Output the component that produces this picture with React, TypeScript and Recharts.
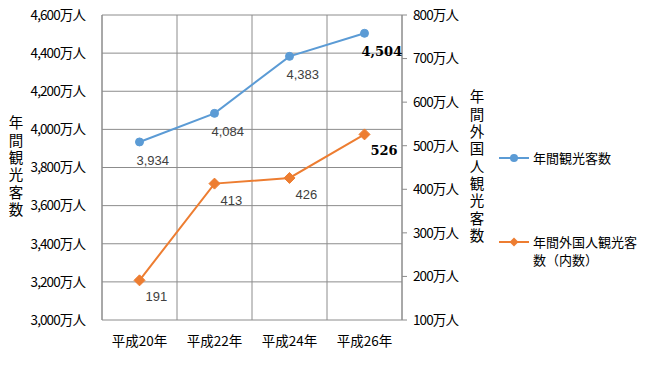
import React from 'react';
import {
  ComposedChart,
  Line,
  XAxis,
  YAxis,
  CartesianGrid,
  LabelList,
} from 'recharts';

const categories = ['平成20年', '平成22年', '平成24年', '平成26年'];
const totalVisitors = [3934, 4084, 4383, 4504];
const foreignVisitors = [191, 413, 426, 526];
const leftTicks = [3000, 3200, 3400, 3600, 3800, 4000, 4200, 4400, 4600];
const rightTicks = [100, 200, 300, 400, 500, 600, 700, 800];

const leftTitle = '年間観光客数';
const rightTitle = '年間外国人観光客数';
const totalName = '年間観光客数';
const foreignName = '年間外国人観光客数（内数）';

const data = categories.map((name, i) => ({
  name,
  total: totalVisitors[i],
  foreign: foreignVisitors[i],
}));

const BLUE = '#5B9BD5';
const ORANGE = '#ED7D31';
const GRID = '#8c8c8c';
const JP = '"Noto Sans CJK JP", "Noto Sans", sans-serif';

const fmt = (v: number) => v.toLocaleString('en-US') + '万人';
const tickStyle = { fontSize: 13.5, fontFamily: JP, fill: '#000', letterSpacing: -0.9 };

// vertical (tategaki) axis title, one text element
const verticalTitle = (text: string, dx: number) => (props: any) => {
  const { x, y, height } = props.viewBox;
  return (
    <text
      x={x + dx}
      y={y + height / 2}
      textAnchor="middle"
      fontSize={14.5}
      fontFamily={JP}
      fill="#000"
      style={{ writingMode: 'vertical-rl', letterSpacing: 2.8 }}
    >
      {text}
    </text>
  );
};

const valueLabel = (dx: number, dy: number) => (props: any) => {
  const { x, y, value, index } = props;
  const last = index === categories.length - 1;
  return (
    <text
      x={x + dx}
      y={y + dy}
      fontSize={13}
      fontWeight={last ? 'bold' : 'normal'}
      fontFamily={last ? '"DejaVu Serif", serif' : '"Liberation Sans", Arial, sans-serif'}
      fill={last ? '#000' : '#404040'}
    >
      {value.toLocaleString('en-US')}
    </text>
  );
};

const Diamond = (props: any) => {
  const { cx, cy } = props;
  if (cx == null || cy == null) return null;
  const s = 5.5;
  return (
    <path
      d={`M${cx},${cy - s}L${cx + s},${cy}L${cx},${cy + s}L${cx - s},${cy}Z`}
      fill={ORANGE}
      stroke={ORANGE}
    />
  );
};

const LegendBox = () => (
  <div
    style={{
      position: 'absolute',
      left: 499,
      top: 149,
      width: 160,
      fontFamily: JP,
      fontSize: 13,
      color: '#000',
      lineHeight: '18px',
    }}
  >
    <div style={{ display: 'flex', alignItems: 'center' }}>
      <svg width={32} height={12}>
        <line x1={0} y1={6} x2={30} y2={6} stroke={BLUE} strokeWidth={2} />
        <circle cx={15} cy={6} r={4} fill={BLUE} />
      </svg>
      <span style={{ marginLeft: 2 }}>{totalName}</span>
    </div>
    <div style={{ display: 'flex', alignItems: 'flex-start', marginTop: 66 }}>
      <svg width={32} height={18} style={{ flex: 'none' }}>
        <line x1={0} y1={9} x2={30} y2={9} stroke={ORANGE} strokeWidth={2} />
        <path d="M15,4.5L19.5,9L15,13.5L10.5,9Z" fill={ORANGE} />
      </svg>
      <span style={{ marginLeft: 2, width: 112 }}>{foreignName}</span>
    </div>
  </div>
);

export default function App() {
  return (
    <div style={{ position: 'absolute', left: 0, top: 0, width: 659, height: 366, background: '#fff' }}>
      <ComposedChart
        width={659}
        height={366}
        data={data}
        margin={{ top: 15, right: 162, bottom: 0, left: 0 }}
      >
        <CartesianGrid
          yAxisId="left"
          stroke={GRID}
          strokeWidth={1}
          verticalCoordinatesGenerator={({ offset }: any) =>
            Array.from(
              { length: categories.length + 1 },
              (_, i) => offset.left + (offset.width * i) / categories.length
            )
          }
        />
        <XAxis
          dataKey="name"
          scale="band"
          interval={0}
          axisLine={false}
          tickLine={false}
          height={46}
          tickMargin={10}
          tick={{ fontSize: 13.5, fontFamily: JP, fill: '#000' }}
        />
        <YAxis
          yAxisId="left"
          domain={[3000, 4600]}
          ticks={leftTicks}
          width={102}
          interval={0}
          tickFormatter={fmt}
          axisLine={{ stroke: GRID }}
          tickLine={false}
          tickMargin={11}
          tick={tickStyle}
          label={{ content: verticalTitle(leftTitle, 16) }}
        />
        <YAxis
          yAxisId="right"
          orientation="right"
          domain={[100, 800]}
          ticks={rightTicks}
          width={95}
          interval={0}
          tickFormatter={fmt}
          axisLine={{ stroke: GRID }}
          tickLine={{ stroke: GRID }}
          tickSize={5}
          tickMargin={6}
          tick={tickStyle}
          label={{ content: verticalTitle(rightTitle, 75) }}
        />
        <Line
          yAxisId="left"
          dataKey="total"
          name={totalName}
          stroke={BLUE}
          strokeWidth={2}
          dot={{ r: 4, fill: BLUE, stroke: BLUE, strokeWidth: 1 }}
          isAnimationActive={false}
        >
          <LabelList dataKey="total" content={valueLabel(-3, 23)} />
        </Line>
        <Line
          yAxisId="right"
          dataKey="foreign"
          name={foreignName}
          stroke={ORANGE}
          strokeWidth={2}
          dot={<Diamond />}
          isAnimationActive={false}
        >
          <LabelList dataKey="foreign" content={valueLabel(6, 21)} />
        </Line>
      </ComposedChart>
      <LegendBox />
    </div>
  );
}
